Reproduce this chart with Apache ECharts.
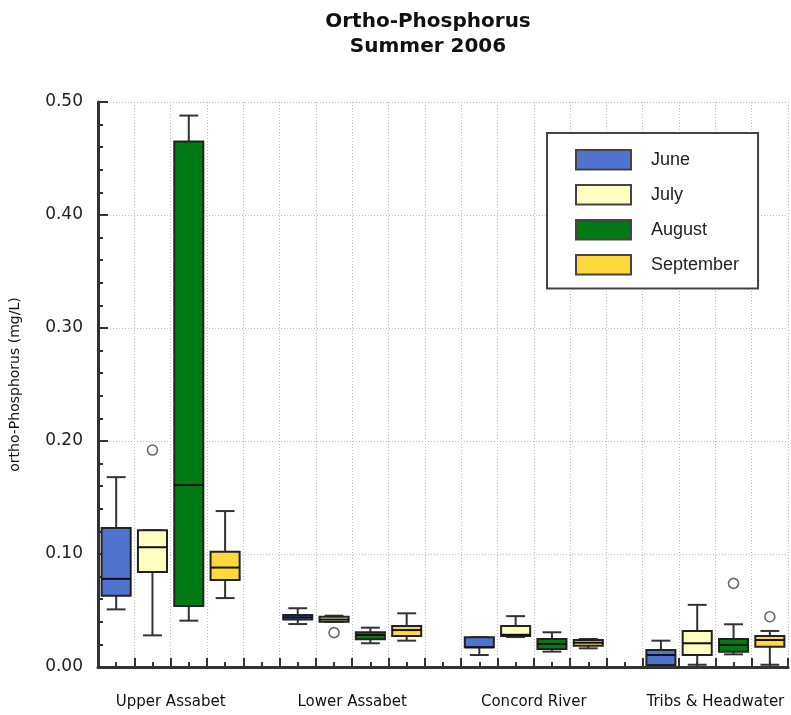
<!DOCTYPE html>
<html>
<head>
<meta charset="utf-8">
<script src="https://cdn.jsdelivr.net/npm/echarts@6/dist/echarts.min.js"></script>
<style>
html, body { margin: 0; padding: 0; background: #fff; }
#chart { width: 791px; height: 715px; }
</style>
</head>
<body>
<div id="chart"></div>
<script>
// ---- Data ----
const groups = ['Upper Assabet', 'Lower Assabet', 'Concord River', 'Tribs & Headwater'];
const months = ['June', 'July', 'August', 'September'];
const yTicks = [0.00, 0.10, 0.20, 0.30, 0.40, 0.50];

// [min, Q1, median, Q3, max] for each group
const juneStats = [
  [0.051, 0.063, 0.078, 0.123, 0.168],
  [0.038, 0.042, 0.044, 0.046, 0.052],
  [0.0106, 0.0174, 0.0174, 0.0263, 0.0263],
  [0.001, 0.0018, 0.0106, 0.015, 0.0233]
];
const julyStats = [
  [0.028, 0.084, 0.106, 0.121, 0.121],
  [0.040, 0.040, 0.042, 0.0445, 0.0454],
  [0.0265, 0.0274, 0.0285, 0.0363, 0.045],
  [0.002, 0.0106, 0.021, 0.0319, 0.055]
];
const augustStats = [
  [0.041, 0.054, 0.161, 0.465, 0.488],
  [0.021, 0.0245, 0.0283, 0.0307, 0.0348],
  [0.0136, 0.0159, 0.0204, 0.0248, 0.0307],
  [0.0112, 0.0136, 0.0195, 0.0248, 0.0378]
];
const septemberStats = [
  [0.061, 0.077, 0.088, 0.102, 0.138],
  [0.0233, 0.0274, 0.0327, 0.0363, 0.0475],
  [0.0165, 0.0189, 0.0215, 0.0239, 0.0248],
  [0.002, 0.018, 0.0239, 0.0274, 0.0319]
];
// outliers per group (null = none)
const juneOutliers = [null, null, null, null];
const julyOutliers = [0.192, 0.0304, null, null];
const augustOutliers = [null, null, null, 0.074];
const septemberOutliers = [null, null, null, 0.0445];

const allStats = [juneStats, julyStats, augustStats, septemberStats];
const allOutliers = [juneOutliers, julyOutliers, augustOutliers, septemberOutliers];
const colors = ['#4f74cf', '#ffffc2', '#007b13', '#ffd83b'];

// slot layout: each group uses 4 box slots + 1 gap slot
const slotsPerGroup = months.length + 1;
const totalSlots = groups.length * slotsPerGroup - 1;
function slotCenter(g, m) { return g * slotsPerGroup + m + 0.5; }
function labelPos(g) { return g * slotsPerGroup + months.length / 2; }

function renderBox(params, api) {
  const x = api.value(0);
  const lo = api.coord([x, api.value(1)]);
  const q1 = api.coord([x, api.value(2)]);
  const med = api.coord([x, api.value(3)]);
  const q3 = api.coord([x, api.value(4)]);
  const hi = api.coord([x, api.value(5)]);
  const bw = api.size([0.8, 0])[0];
  const cw = api.size([0.52, 0])[0];
  const cx = lo[0];
  const fill = api.visual('color');
  const ls = { stroke: '#333', lineWidth: 2 };
  return {
    type: 'group',
    children: [
      { type: 'line', shape: { x1: cx, y1: hi[1], x2: cx, y2: q3[1] }, style: ls },
      { type: 'line', shape: { x1: cx, y1: q1[1], x2: cx, y2: lo[1] }, style: ls },
      { type: 'line', shape: { x1: cx - cw / 2, y1: hi[1], x2: cx + cw / 2, y2: hi[1] }, style: ls },
      { type: 'line', shape: { x1: cx - cw / 2, y1: lo[1], x2: cx + cw / 2, y2: lo[1] }, style: ls },
      { type: 'rect', shape: { x: cx - bw / 2, y: q3[1], width: bw, height: q1[1] - q3[1] },
        style: { fill: fill, stroke: '#222', lineWidth: 2 } },
      { type: 'line', shape: { x1: cx - bw / 2, y1: med[1], x2: cx + bw / 2, y2: med[1] },
        style: { stroke: '#111', lineWidth: 2 } }
    ]
  };
}

const series = months.map(function (name, m) {
  return {
    name: name,
    type: 'custom',
    renderItem: renderBox,
    itemStyle: { color: colors[m], borderColor: '#444', borderWidth: 1.5 },
    encode: { x: 0, y: [1, 2, 3, 4, 5] },
    data: allStats[m].map(function (s, g) { return [slotCenter(g, m)].concat(s); }),
    z: 3
  };
});

const outlierData = [];
allOutliers.forEach(function (arr, m) {
  arr.forEach(function (v, g) { if (v !== null) outlierData.push([slotCenter(g, m), v]); });
});
series.push({
  name: 'outliers',
  type: 'scatter',
  symbol: 'circle',
  symbolSize: 10,
  itemStyle: { color: '#fff', borderColor: '#444', borderWidth: 1.6 },
  data: outlierData,
  z: 4
});

const chart = echarts.init(document.getElementById('chart'));
chart.setOption({
  backgroundColor: '#fff',
  animation: false,
  title: {
    text: 'Ortho-Phosphorus\nSummer 2006',
    left: 428,
    top: 9,
    padding: 0,
    textAlign: 'center',
    textStyle: { fontFamily: 'DejaVu Sans', fontWeight: 'bold', fontSize: 20, lineHeight: 25, color: '#111' }
  },
  legend: {
    data: months,
    orient: 'vertical',
    left: 547,
    top: 133,
    padding: [16, 19, 13, 28],
    itemWidth: 55,
    itemHeight: 19.5,
    itemGap: 13.5,
    icon: 'rect',
    backgroundColor: '#fff',
    borderColor: '#444',
    borderWidth: 2,
    borderRadius: 0,
    textStyle: { fontFamily: 'Liberation Sans', fontSize: 18, color: '#222', padding: [0, 0, 0, 15] }
  },
  grid: { left: 97, right: 1, top: 102, bottom: 48, containLabel: false },
  xAxis: {
    type: 'value',
    min: 0,
    max: totalSlots,
    interval: 1,
    axisLine: { show: true, lineStyle: { color: '#333', width: 3 } },
    axisTick: { show: true, inside: true, length: 9, lineStyle: { color: '#333', width: 2 } },
    minorTick: { show: true, splitNumber: 2, length: 5, lineStyle: { color: '#333', width: 2 } },
    splitLine: { show: true, lineStyle: { color: '#bbb', type: [1, 2], width: 1 } },
    axisLabel: {
      margin: 28,
      fontFamily: 'DejaVu Sans',
      fontSize: 15,
      color: '#111',
      formatter: function (v) {
        for (let g = 0; g < groups.length; g++) { if (Math.abs(v - labelPos(g)) < 1e-6) return groups[g]; }
        return '';
      }
    }
  },
  yAxis: {
    type: 'value',
    min: yTicks[0],
    max: yTicks[yTicks.length - 1],
    interval: 0.1,
    name: 'ortho-Phosphorus (mg/L)',
    nameLocation: 'middle',
    nameRotate: 90,
    nameGap: 76,
    nameTextStyle: { fontFamily: 'DejaVu Sans', fontSize: 14, color: '#111' },
    axisLine: { show: true, lineStyle: { color: '#333', width: 3 } },
    axisTick: { show: true, inside: true, length: 10, lineStyle: { color: '#333', width: 2 } },
    minorTick: { show: true, splitNumber: 5, length: 5, lineStyle: { color: '#333', width: 2 } },
    splitLine: { show: true, lineStyle: { color: '#bbb', type: [1, 2], width: 1 } },
    axisLabel: {
      margin: 15,
      fontFamily: 'DejaVu Sans',
      fontSize: 17,
      color: '#222',
      formatter: function (v) { return v.toFixed(2); }
    }
  },
  series: series
});
</script>
</body>
</html>
